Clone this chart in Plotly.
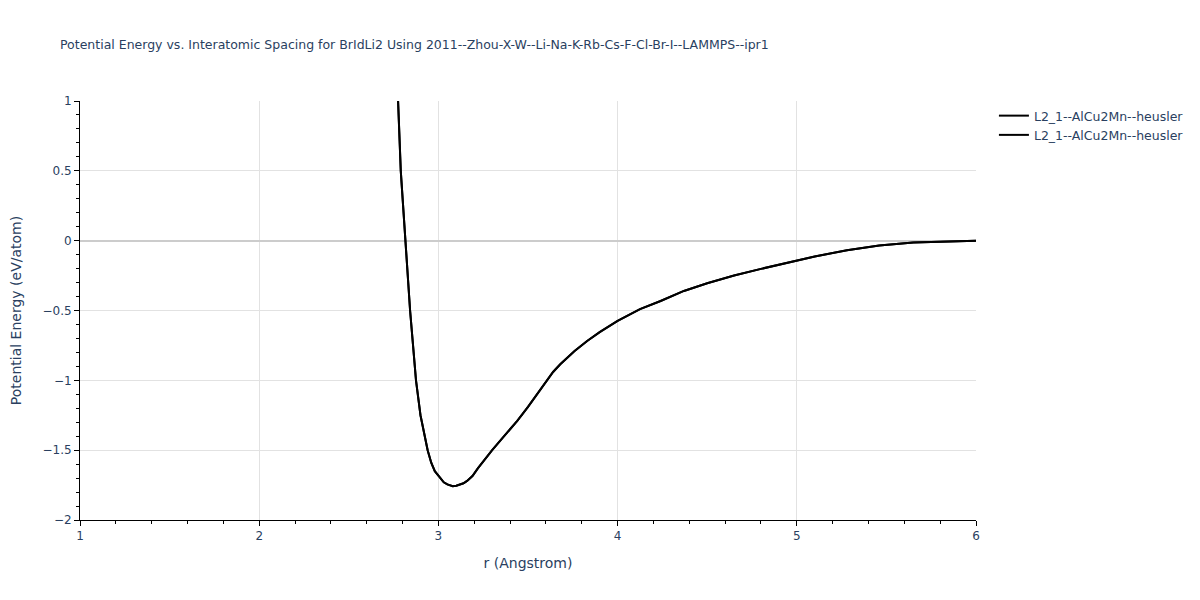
import plotly.graph_objects as go

r_vals = [2.76, 2.775, 2.79, 2.814, 2.842, 2.875, 2.90, 2.94, 2.96, 2.98, 3.01, 3.03, 3.05,
          3.08, 3.10, 3.12, 3.14, 3.16, 3.19, 3.22, 3.25, 3.30, 3.35, 3.44, 3.50, 3.56, 3.60, 3.64,
          3.68, 3.76, 3.83, 3.90, 4.00, 4.125, 4.24, 4.37, 4.50, 4.65, 4.80, 4.91, 5.00,
          5.10, 5.28, 5.46, 5.65, 5.84, 6.00]
e_vals = [1.25, 1.0, 0.5, 0.0, -0.5, -1.0, -1.25, -1.5, -1.59, -1.65, -1.70, -1.73, -1.745,
          -1.758, -1.755, -1.747, -1.737, -1.72, -1.685, -1.63, -1.58, -1.50, -1.425, -1.29, -1.19, -1.08, -1.005, -0.94,
          -0.885, -0.79, -0.718, -0.655, -0.575, -0.49, -0.432, -0.36, -0.305, -0.25, -0.202, -0.168, -0.14,
          -0.113, -0.069, -0.034, -0.014, -0.005, 0.0]

series_names = ["L2_1--AlCu2Mn--heusler", "L2_1--AlCu2Mn--heusler"]
title_text = "Potential Energy vs. Interatomic Spacing for BrIdLi2 Using 2011--Zhou-X-W--Li-Na-K-Rb-Cs-F-Cl-Br-I--LAMMPS--ipr1"

FONT = "DejaVu Sans, Verdana, sans-serif"

fig = go.Figure()
for name in series_names:
    fig.add_trace(go.Scatter(x=r_vals, y=e_vals, mode="lines", name=name,
                             line=dict(color="black", width=2)))

axis_common = dict(
    showline=True, linecolor="black", linewidth=1,
    ticks="outside", tickcolor="black", ticklen=5,
    gridcolor="#e2e2e2", gridwidth=1,
    tickfont=dict(size=12, color="#2a3f5f"),
    mirror=False,
    automargin=False,
)

fig.update_layout(
    width=1200, height=600,
    paper_bgcolor="white", plot_bgcolor="white",
    margin=dict(l=72, r=232, t=93, b=88),
    title=dict(text=title_text, x=52 / 1200, xanchor="left", y=1 - 37 / 600, yanchor="middle",
               font=dict(size=12.5, color="#2a3f5f", family=FONT)),
    font=dict(family=FONT, color="#2a3f5f"),
    legend=dict(x=1.02, y=1.0, xanchor="left", yanchor="top", font=dict(size=12.5)),
    showlegend=True,
)
fig.update_xaxes(range=[1, 6], dtick=1, title=dict(text="r (Angstrom)", font=dict(size=14)),
                 zeroline=False,
                 minor=dict(dtick=0.2, ticks="outside", ticklen=3, tickcolor="black", showgrid=False),
                 **axis_common)
fig.update_yaxes(range=[-2, 1], dtick=0.5,
                 title=dict(text="Potential Energy (eV/atom)", font=dict(size=14), standoff=22),
                 zeroline=True, zerolinecolor="#cccccc", zerolinewidth=2,
                 minor=dict(dtick=0.1, ticks="outside", ticklen=3, tickcolor="black", showgrid=False),
                 **axis_common)

fig.write_html("out.html")
